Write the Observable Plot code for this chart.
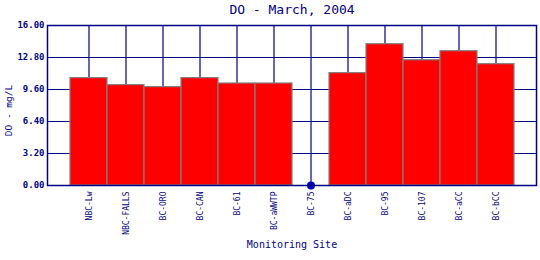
<!DOCTYPE html>
<html>
<head>
<meta charset="utf-8">
<script src="https://cdn.jsdelivr.net/npm/d3@7"></script>
<script src="https://cdn.jsdelivr.net/npm/@observablehq/plot@0.6"></script>
<style>
  html, body { margin: 0; padding: 0; background: #fff; }
  svg { display: block; }
</style>
</head>
<body>
<div id="chart"></div>
<script>
const sites = ["NBC-Lw", "NBC-FALLS", "BC-ORO", "BC-CAN", "BC-61", "BC-aWWTP", "BC-75", "BC-aDC", "BC-95", "BC-107", "BC-aCC", "BC-bCC"];
const doValues = [10.74, 10.04, 9.84, 10.74, 10.2, 10.2, null, 11.24, 14.13, 12.53, 13.43, 12.13];
const yTicks = [0, 3.2, 6.4, 9.6, 12.8, 16];
const titleText = "DO - March, 2004";
const yLabel = "DO - mg/L";
const xLabel = "Monitoring Site";

const data = sites.map((s, i) => ({site: s, value: doValues[i]}));
const present = data.filter(d => d.value != null);
const missing = data.filter(d => d.value == null).map(d => ({site: d.site, value: 0}));

const navy = "#000080";
const font = "DejaVu Sans Mono, monospace";

const chart = Plot.plot({
  width: 540,
  height: 260,
  marginLeft: 47,
  marginRight: 4,
  marginTop: 25,
  marginBottom: 75,
  style: {fontFamily: font, color: navy, background: "#fff"},
  x: {domain: sites, paddingInner: 0, paddingOuter: 0.5},
  y: {domain: [0, 16]},
  marks: [
    Plot.gridX(sites, {stroke: navy, strokeOpacity: 1, strokeWidth: 1.2}),
    Plot.gridY(yTicks, {stroke: navy, strokeOpacity: 1, strokeWidth: 1.2}),
    Plot.barY(present, {x: "site", y: "value", fill: "#ff0000", stroke: "#808080", strokeWidth: 1.2}),
    Plot.dot(missing, {x: "site", y: "value", r: 4, fill: "#0000bb", stroke: "none"}),
    Plot.frame({stroke: navy, strokeWidth: 1.5}),
    Plot.axisY(yTicks, {tickSize: 0, tickPadding: 3, tickFormat: d => d.toFixed(2), fontSize: 9, fontWeight: "bold", fill: navy, label: null}),
    Plot.axisX({tickSize: 0, tickPadding: 6, tickRotate: -90, fontSize: 8, fill: navy, label: null}),
    Plot.text([titleText], {frameAnchor: "top", dy: -12, lineAnchor: "bottom", fontSize: 13, fill: navy}),
    Plot.text([xLabel], {frameAnchor: "bottom", dy: 62, lineAnchor: "bottom", fontSize: 10, fill: navy}),
    Plot.text([yLabel], {frameAnchor: "left", dx: -39, dy: 5, rotate: -90, textAnchor: "middle", fontSize: 9.5, fill: navy})
  ]
});
document.getElementById("chart").appendChild(chart);
</script>
</body>
</html>
